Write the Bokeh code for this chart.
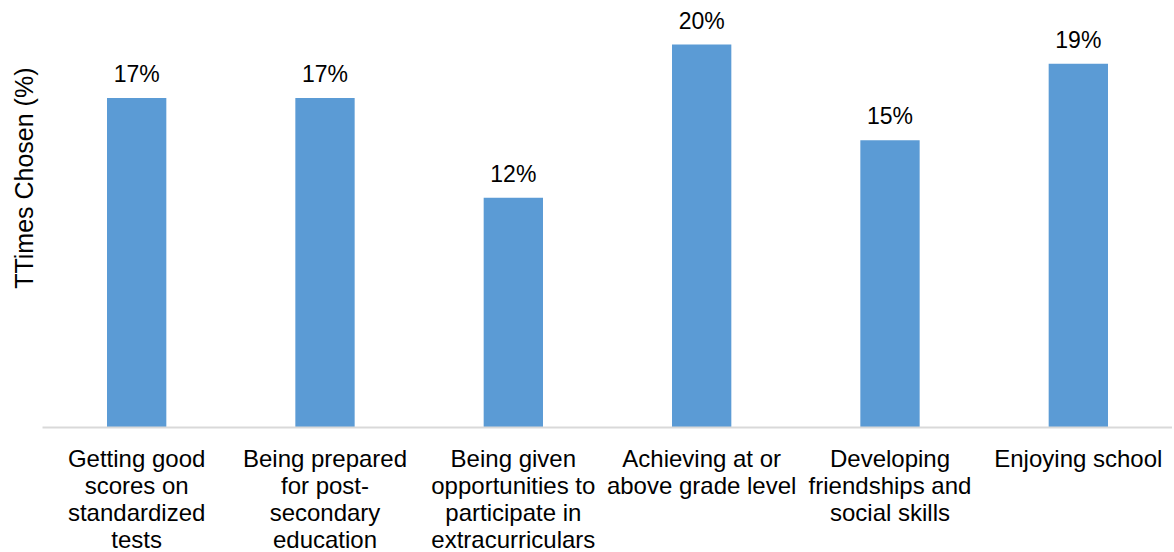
from bokeh.plotting import figure
from bokeh.models import ColumnDataSource, FactorRange, Range1d, LabelSet, Title
from bokeh.core.properties import value
from bokeh.embed import file_html
from bokeh.resources import INLINE

categories = [
    "Getting good\nscores on\nstandardized\ntests",
    "Being prepared\nfor post-\nsecondary\neducation",
    "Being given\nopportunities to\nparticipate in\nextracurriculars",
    "Achieving at or\nabove grade level",
    "Developing\nfriendships and\nsocial skills",
    "Enjoying school",
]
values = [17.2, 17.2, 12.0, 20.0, 15.0, 19.0]
labels = ["17%", "17%", "12%", "20%", "15%", "19%"]
y_title = "TTimes Chosen (%)"

FONT = "Liberation Sans"

src = ColumnDataSource(dict(cat=categories, val=values, lab=labels))

p = figure(
    x_range=FactorRange(*categories, range_padding=0),
    y_range=Range1d(0, 21.88),
    frame_width=1130, frame_height=419,
    min_border_top=8, min_border_right=0, min_border_left=42, min_border_bottom=0,
    output_backend="svg", toolbar_location=None,
)
p.outline_line_color = None
p.background_fill_color = "white"
p.border_fill_color = "white"
p.grid.visible = False
p.yaxis.visible = False

p.vbar(x="cat", top="val", width=0.315, source=src, fill_color="#5B9BD5", line_color=None)

p.add_layout(LabelSet(x="cat", y="val", text="lab", source=src, y_offset=16,
                      text_align="center", text_baseline="alphabetic",
                      text_font=value(FONT), text_font_size="23px", text_color="#000000"))

xa = p.xaxis[0]
xa.axis_line_color = "#D9D9D9"
xa.axis_line_width = 2
xa.major_tick_line_color = None
xa.minor_tick_line_color = None
xa.major_label_text_font = FONT
xa.major_label_text_font_size = "24px"
xa.major_label_text_color = "#000000"
xa.major_label_text_align = "center"
xa.major_label_text_line_height = 1.0
xa.major_label_standoff = 11
xa.major_label_orientation = "horizontal"

p.add_layout(Title(text=y_title, align="right", offset=59, standoff=10,
                   text_font=FONT, text_font_size="25px", text_font_style="normal",
                   text_color="#000000"), "left")

open("out.html", "w").write(file_html(p, INLINE))
